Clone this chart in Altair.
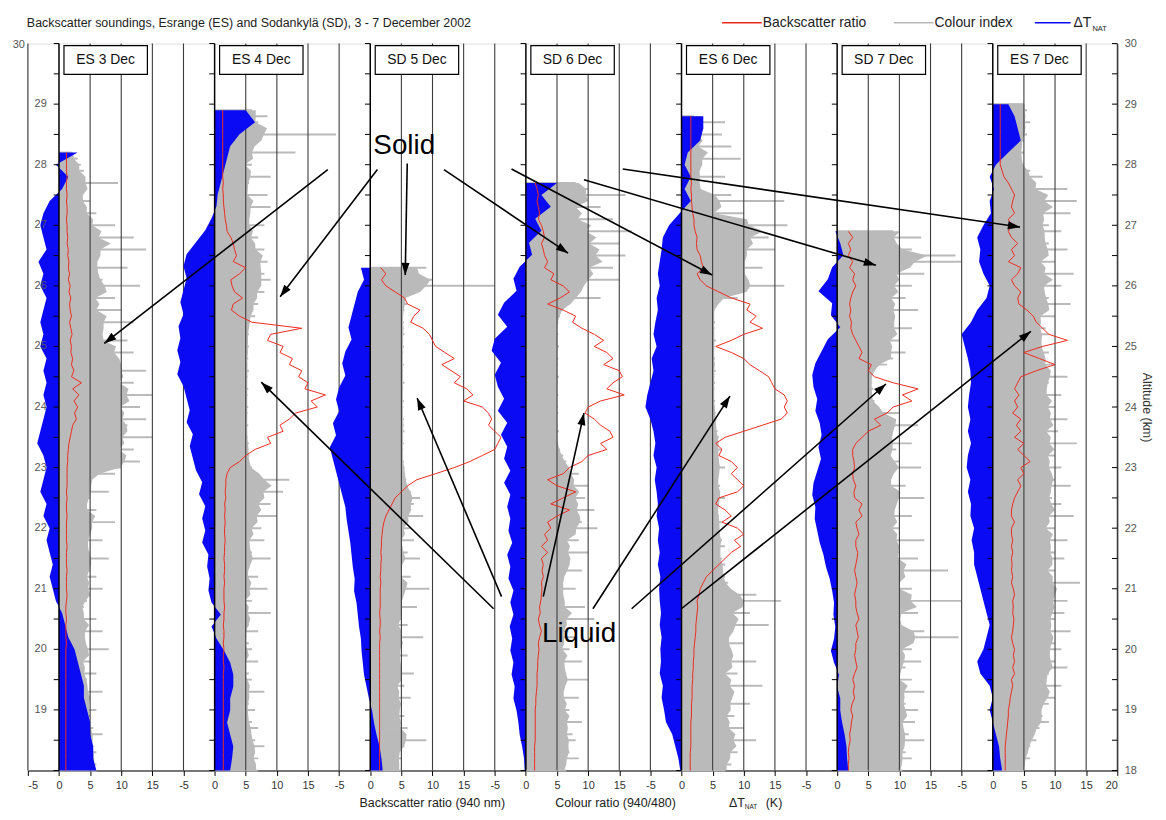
import math
import altair as alt
import numpy as np
import pandas as pd

TITLE = "Backscatter soundings, Esrange (ES) and Sodankylä (SD), 3 - 7 December 2002"
PANELS = ["ES 3 Dec", "ES 4 Dec", "SD 5 Dec", "SD 6 Dec", "ES 6 Dec", "SD 7 Dec", "ES 7 Dec"]
TOPS = [28.2, 28.9, 26.3, 27.7, 28.8, 26.9, 29.0]
TICK_LABELS = ["-5", "0", "5", "10", "15"]
LAST_TICK_LABEL = "20"
LEFT_ALT_LABELS = list(range(19, 30))
LEGEND_LABELS = ["Backscatter ratio", "Colour index", "\u0394T"]
X_TITLE_PARTS = ["Backscatter ratio (940 nm)", "Colour ratio (940/480)", "\u0394T", "(K)"]
SUB = "NAT"

# ---- Backscatter ratio (red), 0.1 km steps from the top of each sounding down to 18 km
RED = [
    [1.2, 1.2, 1.2,
     1.2, 1.3, 1.2, 1.2, 1.3, 1.2, 1.3, 1.3, 1.2, 1.3,
     1.3, 1.4, 1.3, 1.5, 1.4, 1.6, 1.5, 1.7, 1.5, 1.8,
     1.6, 1.9, 1.7, 1.8, 2.0, 1.7, 1.9, 2.1, 1.8, 2.0,
     1.9, 2.2, 2.0, 2.4, 2.0, 3.6, 2.2, 3.2, 2.4, 3.0,
     2.5, 2.8, 2.2, 2.0, 1.8, 1.6, 1.5, 1.4, 1.4, 1.3,
     1.3, 1.3, 1.3, 1.2, 1.3, 1.2, 1.2, 1.3, 1.2, 1.2,
     1.2, 1.2, 1.3, 1.2, 1.2, 1.2, 1.3, 1.2, 1.2, 1.2,
     1.3, 1.2, 1.1, 1.1, 1.2, 1.1, 1.1, 1.1, 1.2, 1.1,
     1.1, 1.1, 1.1, 1.1, 1.1, 1.1, 1.1, 1.1, 1.1, 1.1,
     1.1, 1.1, 1.1, 1.1, 1.1, 1.1, 1.1, 1.1, 1.1, 1.1],
    [1.3, 1.3, 1.3, 1.3, 1.3, 1.3, 1.3, 1.3, 1.3, 1.3,
     1.3, 1.3, 1.4, 1.3, 1.4, 1.4, 1.5, 1.6, 1.7, 1.9,
     2.0, 2.6, 3.0, 3.2, 3.5, 3.0, 5.0, 4.0, 2.6, 2.8,
     3.2, 4.5, 3.0, 2.7, 4.0, 6.0, 14.0, 9.0, 8.5, 11.0,
     10.5, 12.5, 12.0, 14.0, 13.5, 15.0, 14.5, 17.8, 15.5, 16.5,
     13.0, 12.0, 10.5, 11.0, 8.5, 9.0, 6.5, 5.0, 4.0, 2.5,
     2.0, 1.8, 1.8, 1.7, 1.8, 1.6, 1.7, 1.6, 1.7, 1.6,
     1.6, 1.7, 1.6, 1.6, 1.5, 1.6, 1.6, 1.5, 1.6, 1.5,
     1.5, 1.5, 1.6, 1.5, 1.5, 1.4, 1.5, 1.5, 1.4, 1.5,
     1.4, 1.4, 1.5, 1.4, 1.4, 1.4, 1.4, 1.4, 1.4, 1.4,
     1.4, 1.4, 1.4, 1.4, 1.4, 1.4, 1.4, 1.4, 1.4, 1.4],
    [1.7, 2.5, 1.8, 2.5,
     4.0, 5.5, 6.0, 8.0, 7.0, 6.5, 8.5, 9.5, 10.0, 10.5,
     12.0, 13.5, 11.5, 13.0, 14.5, 13.5, 15.5, 16.5, 15.0, 18.0,
     19.0, 19.5, 19.0, 20.0, 21.0, 20.5, 20.0, 18.0, 16.0, 13.5,
     10.5, 7.5, 6.0, 5.0, 4.0, 3.5, 3.0, 2.5, 2.2, 2.0,
     1.9, 1.8, 1.8, 1.7, 1.8, 1.7, 1.7, 1.6, 1.7, 1.6,
     1.6, 1.6, 1.6, 1.5, 1.6, 1.6, 1.5, 1.6, 1.5, 1.5,
     1.5, 1.5, 1.5, 1.5, 1.5, 1.5, 1.5, 1.5, 1.5, 1.5,
     1.5, 1.5, 1.5, 1.5, 1.5, 1.5, 1.5, 1.5, 1.5, 1.5],
    [1.5, 1.8, 2.0, 1.8, 2.0, 2.2, 2.0, 2.5,
     2.8, 3.0, 2.5, 2.8, 3.0, 3.5, 3.0, 4.5, 4.0, 6.0,
     7.0, 5.5, 3.5, 6.0, 8.0, 7.5, 9.0, 11.0, 12.5, 11.0,
     13.0, 14.0, 12.5, 15.0, 15.5, 14.0, 13.0, 15.8, 12.0, 10.0,
     9.5, 11.0, 12.0, 13.5, 14.0, 12.0, 13.0, 10.0, 9.0, 7.0,
     6.0, 3.5, 5.0, 8.0, 6.0, 4.0, 7.0, 5.0, 3.5, 4.0,
     3.0, 3.5, 2.5, 3.5, 2.5, 2.8, 2.6, 2.8, 2.5, 2.6,
     2.5, 2.4, 2.2, 2.3, 2.0, 2.2, 2.5, 2.2, 2.0, 2.1,
     2.0, 1.9, 1.9, 1.8, 1.8, 1.8, 1.7, 1.6, 1.6, 1.5,
     1.5, 1.5, 1.5, 1.5, 1.5, 1.4, 1.4, 1.4, 1.4, 1.4],
    [1.5, 1.5, 1.5, 1.5, 1.5, 1.5, 1.5, 1.5, 1.5,
     1.5, 1.5, 1.6, 1.5, 1.6, 1.6, 1.7, 1.8, 2.0, 2.0,
     2.2, 2.5, 2.4, 2.5, 3.0, 3.2, 3.5, 2.5, 3.0, 4.0,
     6.0, 8.0, 11.0, 10.5, 12.0, 11.0, 13.0, 10.0, 8.0, 5.5,
     8.0, 10.0, 11.0, 12.5, 14.0, 14.5, 15.0, 16.5, 17.0, 16.5,
     17.0, 16.0, 13.0, 10.0, 7.0, 5.5, 6.5, 6.0, 8.0, 9.0,
     8.0, 9.0, 10.0, 9.0, 6.0, 5.5, 7.0, 8.0, 6.5, 9.0,
     10.0, 8.5, 9.5, 8.0, 7.0, 6.0, 5.0, 4.0, 3.5, 3.0,
     2.8, 2.5, 2.6, 2.5, 2.4, 2.3, 2.3, 2.2, 2.1, 2.0,
     2.0, 1.9, 1.9, 1.8, 1.8, 1.7, 1.7, 1.7, 1.6, 1.6,
     1.6, 1.5, 1.5, 1.5, 1.5, 1.5, 1.4, 1.4, 1.4, 1.4],
    [1.8, 2.5, 1.8, 2.2, 1.8, 2.5, 2.0, 2.8, 2.5, 3.0,
     2.5, 2.2, 2.0, 2.2, 2.0, 2.3, 2.2, 2.5, 3.0, 3.5,
     4.0, 3.5, 5.5, 5.0, 6.0, 9.0, 13.0, 10.5, 12.0, 9.0,
     8.0, 6.0, 7.0, 5.0, 4.0, 3.0, 2.5, 2.5, 2.7, 2.8,
     2.5, 2.6, 3.0, 2.7, 2.8, 4.0, 3.5, 4.0, 3.0, 3.2,
     3.5, 3.0, 3.0, 3.3, 3.2, 3.0, 2.8, 3.0, 3.2, 3.0,
     2.8, 3.0, 3.0, 3.2, 3.5, 3.0, 3.2, 3.4, 3.0, 3.0,
     2.8, 3.0, 3.2, 2.8, 2.5, 2.8, 2.6, 2.8, 2.4, 2.2,
     2.5, 2.3, 2.2, 2.0, 2.1, 1.9, 1.8, 1.9, 1.8, 1.8],
    [1.2,
     1.2, 1.2, 1.2, 1.2, 1.2, 1.2, 1.2, 1.2, 1.2, 1.2,
     1.5, 1.8, 2.5, 3.0, 3.5, 3.2, 3.0, 3.5, 2.5, 3.0,
     2.5, 3.0, 4.0, 3.0, 3.5, 2.5, 4.5, 4.0, 3.0, 3.5,
     4.5, 4.0, 4.2, 5.5, 6.5, 7.0, 8.0, 9.0, 12.0, 8.0,
     5.0, 7.5, 10.0, 7.0, 4.5, 4.0, 3.5, 4.2, 3.5, 4.0,
     3.2, 4.5, 3.8, 4.5, 3.5, 5.0, 4.0, 5.0, 6.0, 4.5,
     5.0, 4.0, 4.5, 4.0, 3.5, 3.2, 3.0, 3.0, 3.5, 3.0,
     3.0, 3.2, 3.0, 3.2, 3.0, 3.1, 3.0, 3.2, 3.0, 3.3,
     3.5, 3.2, 3.3, 3.2, 3.4, 3.3, 3.2, 3.0, 3.2, 3.5,
     3.3, 3.5, 3.2, 3.5, 3.0, 3.2, 3.0, 2.8, 2.7, 2.5,
     2.5, 2.4, 2.3, 2.2, 2.1, 2.0, 2.0, 2.0, 2.0, 2.0],
]

# ---- Colour index (grey), 0.1 km steps
GREY = [
    [2.0, 3.0, 3.5,
     4.0, 3.0, 9.5, 4.0, 3.5, 5.0, 4.0, 6.0, 4.5, 9.0,
     5.0, 12.0, 6.0, 14.0, 5.0, 6.0, 11.0, 5.0, 7.0, 13.0,
     6.0, 9.0, 5.0, 10.0, 6.0, 12.0, 7.0, 6.0, 11.0, 8.0,
     12.0, 9.0, 10.0, 14.0, 9.0, 12.0, 10.0, 15.0, 10.0, 13.0,
     9.0, 14.0, 11.0, 10.0, 15.0, 9.0, 12.0, 10.0, 13.0, 10.0,
     9.0, 5.0, 4.5, 8.0, 5.0, 4.0, 6.0, 5.0, 9.0, 4.5,
     5.0, 7.0, 4.0, 5.0, 8.0, 4.5, 5.0, 6.0, 4.0, 7.0,
     5.0, 4.5, 4.0, 3.5, 6.0, 4.0, 7.0, 3.5, 4.0, 8.0,
     4.0, 5.0, 3.5, 6.0, 4.5, 4.0, 7.0, 5.0, 4.5, 6.0,
     5.0, 4.5, 5.5, 7.0, 5.0, 5.5, 6.0, 5.5, 6.0, 6.0],
    [6.0, 8.5, 7.0, 6.0, 19.5, 5.5, 5.0, 13.0, 4.5, 6.0,
     5.0, 9.0, 5.5, 4.5, 8.5, 5.0, 9.0, 5.5, 5.0, 8.0,
     5.5, 7.0, 6.0, 8.0, 7.5, 8.5, 7.0, 8.0, 9.0, 7.0,
     8.0, 6.5, 7.0, 6.0, 6.5, 5.5, 5.5, 5.5, 5.3, 5.5,
     5.3, 5.4, 5.2, 5.5, 5.3, 5.2, 5.4, 5.3, 5.2, 5.4,
     5.3, 5.2, 5.4, 5.2, 5.3, 5.5, 5.4, 5.6, 5.5, 6.0,
     7.0, 12.0, 8.0, 11.0, 7.0, 9.0, 6.5, 10.0, 6.0, 7.5,
     5.5, 8.0, 5.0, 6.0, 9.0, 5.5, 5.0, 7.0, 5.0, 8.5,
     5.0, 6.0, 4.5, 9.0, 5.0, 5.5, 7.0, 4.5, 5.5, 6.0,
     5.0, 7.0, 4.5, 5.5, 6.0, 5.0, 8.0, 5.0, 5.5, 6.5,
     5.0, 6.0, 7.0, 5.5, 6.5, 8.0, 6.0, 7.0, 6.5, 7.0],
    [9.0, 7.0, 10.0, 20.0,
     6.0, 5.5, 6.0, 5.5, 5.2, 5.4, 5.3, 5.5, 5.2, 5.4,
     5.3, 5.2, 5.4, 5.3, 5.2, 5.5, 5.3, 5.2, 5.4, 5.3,
     5.2, 5.4, 5.3, 5.5, 5.2, 5.4, 5.3, 5.2, 5.4, 5.5,
     5.6, 5.8, 6.0, 6.5, 8.0, 7.0, 6.0, 8.5, 5.5, 6.5,
     5.0, 7.0, 4.5, 6.0, 8.0, 5.0, 4.5, 6.5, 5.0, 9.5,
     5.0, 4.5, 7.5, 4.5, 5.0, 6.0, 4.0, 8.5, 5.0, 4.5,
     6.0, 4.5, 5.0, 7.0, 4.5, 5.5, 4.0, 6.5, 5.0, 4.5,
     5.5, 4.5, 6.0, 5.0, 9.0, 5.5, 4.5, 5.0, 4.5, 5.0],
    [8.0, 10.0, 16.0, 8.0, 12.0, 7.0, 14.0, 8.0,
     17.0, 9.0, 15.0, 10.0, 16.0, 11.0, 14.0, 9.0, 15.0, 9.0,
     8.0, 12.0, 7.0, 6.0, 5.5, 5.2, 5.0, 5.2, 5.0, 5.3,
     5.0, 5.2, 5.1, 5.0, 5.3, 5.1, 5.0, 5.2, 5.0, 5.1,
     5.2, 5.0, 5.1, 5.3, 5.0, 5.2, 5.5, 6.0, 6.5, 7.0,
     8.5, 7.0, 10.0, 8.0, 9.5, 7.5, 11.0, 8.0, 9.0, 11.5,
     7.0, 8.5, 6.0, 10.0, 6.5, 7.0, 9.0, 6.0, 5.5, 8.0,
     6.0, 5.5, 9.5, 6.0, 11.0, 5.5, 6.5, 8.0, 5.5, 7.0,
     6.0, 9.0, 5.5, 6.5, 10.0, 6.0, 5.5, 8.5, 6.0, 7.0,
     6.5, 9.0, 6.0, 7.5, 8.0, 6.5, 7.0, 8.5, 6.0, 6.5],
    [2.0, 7.0, 2.0, 6.5, 1.5, 8.0, 2.0, 9.5, 2.5,
     2.0, 7.0, 2.5, 2.0, 8.0, 16.5, 3.0, 10.0, 9.0, 17.0,
     12.0, 14.0, 10.0, 15.0, 9.5, 10.0, 13.0, 9.5, 10.0, 16.5,
     10.0, 9.0, 5.5, 5.3, 5.2, 5.4, 5.3, 5.2, 5.5, 5.3,
     5.2, 5.4, 5.3, 5.5, 5.2, 5.4, 5.3, 5.2, 5.4, 5.3,
     5.5, 5.6, 5.5, 5.8, 6.0, 5.8, 6.5, 5.8, 6.0, 7.0,
     6.0, 5.8, 6.2, 6.0, 7.0, 6.0, 5.8, 6.0, 6.5, 6.0,
     6.2, 6.5, 7.0, 6.0, 6.5, 7.0, 6.5, 7.0, 7.5, 7.0,
     12.0, 16.0, 8.0, 11.0, 7.5, 14.0, 8.0, 7.0, 10.0, 7.5,
     8.0, 12.0, 7.0, 9.0, 6.5, 13.0, 7.5, 8.0, 11.0, 7.0,
     8.5, 7.0, 10.0, 7.5, 12.0, 8.0, 9.0, 7.5, 8.0, 7.0],
    [9.0, 13.5, 8.0, 12.0, 19.0, 20.0, 9.0, 14.0, 8.5, 12.0,
     9.0, 11.0, 8.0, 13.0, 9.0, 8.5, 12.0, 9.0, 10.0, 8.0,
     11.0, 9.0, 8.0, 6.0, 5.5, 5.5, 5.8, 5.5, 6.0, 6.5,
     10.0, 8.5, 13.0, 9.0, 8.0, 12.0, 9.5, 8.0, 10.0, 13.5,
     9.0, 8.0, 11.0, 9.0, 14.0, 9.5, 8.5, 12.0, 9.0, 10.0,
     8.5, 14.0, 9.0, 10.0, 13.0, 9.0, 17.8, 10.0, 9.5, 12.0,
     10.0, 20.0, 11.0, 13.0, 9.5, 10.0, 14.0, 19.5, 10.5, 12.0,
     10.0, 13.5, 11.0, 9.5, 12.0, 10.5, 14.0, 10.0, 11.0, 13.0,
     10.5, 12.5, 10.0, 11.5, 14.0, 10.0, 11.0, 12.0, 10.0, 10.5],
    [5.0,
     5.5, 5.0, 6.0, 5.0, 5.5, 5.0, 4.5, 5.0, 4.5, 5.0,
     6.0, 8.0, 5.5, 12.0, 7.0, 13.5, 8.0, 12.5, 7.0, 9.0,
     11.0, 7.5, 9.0, 12.0, 8.0, 10.0, 7.0, 13.0, 8.5, 11.0,
     7.5, 9.0, 12.5, 8.0, 10.0, 7.0, 8.5, 9.0, 7.5, 8.0,
     9.0, 8.0, 10.0, 8.5, 12.0, 9.0, 8.0, 11.0, 9.0, 10.0,
     8.5, 12.0, 9.0, 10.5, 8.0, 13.5, 9.0, 10.0, 8.5, 11.0,
     9.0, 10.0, 12.5, 8.5, 9.5, 11.0, 9.0, 13.0, 8.0, 10.0,
     9.0, 12.0, 8.5, 10.0, 11.5, 9.0, 10.0, 8.5, 14.0, 9.5,
     10.0, 12.0, 9.0, 11.5, 10.0, 8.5, 12.5, 9.0, 10.0, 11.0,
     8.5, 10.0, 12.0, 9.0, 8.0, 11.0, 8.5, 10.0, 9.0, 7.5,
     8.0, 9.0, 7.5, 6.5, 7.0, 6.0, 5.5, 6.0, 5.0, 5.0],
]

# ---- Delta T_NAT (blue), ~0.2 km steps
BLUE = [
    [3.0, -0.5, 1.5, 0.5, -1.5, -2.5, -3.0, -2.5, -2.0, -3.3, -2.5, -3.0, -2.0, -2.5,
     -3.0, -2.5, -3.0, -2.0, -2.5, -2.0, -2.5, -2.0, -2.5, -3.0, -3.5, -2.5, -2.0, -2.5,
     -3.0, -2.0, -2.5, -1.5, -2.0, -1.5, -1.0, -1.5, -1.0, -0.5, 0.5, 1.0, 1.5, 2.5,
     3.0, 3.5, 4.0, 4.0, 4.5, 5.0, 5.0, 5.5, 5.5, 6.0],
    [5.0, 6.5, 4.0, 2.5, 2.0, 1.5, 1.0, 0.5, 0.3, -0.5,
     -1.5, -3.0, -4.5, -5.0, -4.5, -5.0, -5.5, -5.0, -5.8, -5.5,
     -6.0, -5.5, -6.0, -5.0, -4.5, -4.0, -4.5, -3.5, -4.0, -3.5,
     -3.0, -2.0, -2.5, -1.5, -2.0, -1.5, -2.0, -1.0, -1.2, -0.8,
     -1.0, -0.5, 1.0, -0.5, 0.3, 1.5, 2.5, 3.0, 3.0, 2.5,
     2.5, 2.0, 2.5, 3.0, 2.8, 2.5],
    [-1.5, -1.0, -2.0, -2.5, -3.0, -3.5, -3.0, -4.0, -4.5, -4.0,
     -5.0, -5.5, -5.0, -6.0, -5.5, -6.5, -6.0, -5.5, -5.0, -4.5,
     -4.0, -3.8, -3.5, -3.2, -3.0, -2.8, -2.5, -2.6, -2.2, -2.0,
     -1.8, -1.5, -1.4, -1.2, -1.0, -0.6, -0.2, 0.3, 0.6, 1.0,
     1.5, 1.8, 2.0],
    [5.0, 2.5, 4.0, 1.5, 2.5, 0.5, 1.0, -1.0, -2.0, -1.5,
     -3.5, -4.5, -3.0, -5.0, -5.5, -4.0, -5.0, -4.5, -3.5, -4.5,
     -3.0, -4.0, -3.0, -3.5, -2.5, -3.5, -2.5, -3.0, -2.5, -2.8,
     -2.2, -3.0, -2.5, -2.8, -2.0, -2.5, -2.0, -2.6, -2.2, -2.5,
     -2.0, -2.3, -1.8, -2.0, -1.5, -1.2, -1.0, -0.6, -0.3, -0.2],
    [3.5, 3.5, 3.0, 1.0, 0.5, 1.5, 0.5, 1.5, -0.3, -2.0,
     -3.0, -3.2, -3.5, -3.8, -3.5, -4.0, -3.8, -4.2, -4.5, -4.0,
     -4.8, -4.5, -5.0, -5.5, -5.8, -5.0, -4.5, -4.2, -4.5, -4.0,
     -4.3, -4.0, -3.8, -4.0, -3.6, -3.8, -3.5, -3.8, -3.4, -3.6,
     -3.5, -3.3, -3.5, -3.2, -3.4, -3.3, -3.5, -3.0, -3.2, -2.8,
     -2.5, -1.5, -1.0, -0.5, -0.2],
    [-0.3, 0.5, 1.0, -0.8, -1.5, -3.0, -0.8, -1.0, 0.5, -1.5,
     -2.5, -3.5, -4.0, -3.8, -3.2, -3.5, -2.8, -2.5, -3.0, -2.6,
     -3.2, -3.8, -4.0, -3.5, -3.6, -3.2, -2.8, -2.2, -1.8, -1.2,
     -0.8, -0.5, -0.6, -0.3, -0.5, -1.0, -0.5, 0.3, 0.0, 0.5,
     0.5, 0.8, 1.2, 1.5, 1.6, 1.8],
    [2.5, 3.5, 4.0, 4.5, 2.5, 0.5, -0.5, 0.2, -0.5, -0.3,
     -1.5, -2.5, -2.0, -2.2, -1.5, -0.5, -1.0, -2.5, -3.5, -5.0,
     -4.5, -4.0, -3.6, -3.5, -3.8, -4.0, -3.6, -4.0, -3.5, -4.0,
     -4.2, -3.6, -4.0, -3.5, -3.6, -3.0, -3.4, -3.0, -3.0, -2.5,
     -2.0, -1.5, -1.0, -0.5, -1.0, -1.5, -2.5, -2.0, -0.5, 0.0,
     -0.5, 0.0, 0.5, 1.0, 1.2, 1.5],
]

# ---- Annotation arrows: start and end in (global x unit, altitude km)
SOLID_TEXT_POS = (60.46, 28.30)
LIQUID_TEXT_POS = (88.54, 20.25)
SOLID_START = [(48.18, 27.92), (56.15, 27.92), (60.94, 28.02), (66.84, 27.92),
               (77.69, 27.93), (89.33, 27.75), (95.56, 27.93)]
SOLID_END = [(12.28, 25.05), (40.52, 25.82), (60.62, 26.18), (86.78, 26.54),
             (109.91, 26.18), (136.23, 26.34), (159.37, 26.97)]
LIQUID_START = [(74.82, 20.67), (76.09, 20.87), (82.79, 20.87), (90.77, 20.67),
                (96.99, 20.67), (104.97, 20.67)]
LIQUID_END = [(37.49, 24.41), (62.53, 24.15), (89.33, 23.90), (112.78, 24.18),
              (137.83, 24.38), (161.12, 25.25)]

# ---------------------------------------------------------------------------
FONT = "Liberation Sans"
W, H = 1097, 732
SPAN = 25
XMAX = SPAN * len(PANELS)
PX = W / XMAX
PY = H / 12.0
C_RED, C_GREY, C_BLUE = "#ee2a1e", "#bababa", "#0a0af5"


def series_frame(lists):
    rows = []
    for i, vals in enumerate(lists):
        x0 = SPAN * i + 5
        alts = np.linspace(TOPS[i], 18.0, len(vals))
        for a, v in zip(alts, vals):
            rows.append({"panel": i, "alt": float(a), "x0": x0, "xv": x0 + v})
    return pd.DataFrame(rows)


grey_df = series_frame(GREY)
blue_df = series_frame(BLUE)
red_df = series_frame(RED)

xs = alt.Scale(domain=[0, XMAX], nice=False, zero=False)
ys = alt.Scale(domain=[18, 30], nice=False, zero=False)

label_js = "[" + ",".join("'%s'" % t for t in TICK_LABELS) + "]"
X_AXIS = alt.Axis(
    values=list(range(0, XMAX + 1, 5)),
    labelExpr="datum.value >= %d ? '%s' : %s[round(datum.value / 5) %% 5]" % (XMAX, LAST_TICK_LABEL, label_js),
    title=None, grid=False, domainColor="#000", tickColor="#000", tickSize=5,
    labelFont=FONT, labelFontSize=11, labelColor="#333", labelPadding=4,
)
Y_AXIS = alt.Axis(
    orient="right", values=list(range(18, 31)), title="Altitude (km)", grid=False,
    ticks=False, domainColor="#000", labelFont=FONT, labelFontSize=11, labelColor="#555",
    labelPadding=7, titleFont=FONT, titleFontSize=12.5, titleFontWeight="normal",
    titleColor="#333", titlePadding=3,
)


def X(field):
    return alt.X(field, scale=xs, axis=X_AXIS)


def Y(field):
    return alt.Y(field, scale=ys, axis=Y_AXIS)


# colour index: a filled body following the neighbourhood of each sample, and each sample as a thin spike
grey_body = alt.Chart(grey_df).transform_window(
    lo="min(xv)", av="mean(xv)", frame=[-1, 1], groupby=["panel"],
    sort=[alt.SortField("alt", order="descending")]
).transform_calculate(
    body="0.5 * (datum.lo + datum.av)"
).mark_area(orient="horizontal", color=C_GREY).encode(
    x=X("body:Q"), x2="x0:Q", y=Y("alt:Q"), detail="panel:N")
grey_spikes = alt.Chart(grey_df).mark_rule(color=C_GREY, strokeWidth=2).encode(
    x=X("x0:Q"), x2="xv:Q", y=Y("alt:Q"))

grid_df = pd.DataFrame({"gx": [g for g in range(0, XMAX + 1, 5) if (g - 5) % SPAN != 0]})
grid = alt.Chart(grid_df).mark_rule(color="#3c3c3c", strokeWidth=1.1).encode(
    x=X("gx:Q"), y=alt.value(0), y2=alt.value(H))

blue = alt.Chart(blue_df).mark_area(orient="horizontal", color=C_BLUE).encode(
    x=X("xv:Q"), x2="x0:Q", y=Y("alt:Q"), detail="panel:N")

zero_df = pd.DataFrame({"gx": [SPAN * i + 5 for i in range(len(PANELS))]})
zeros = alt.Chart(zero_df).mark_rule(color="#000", strokeWidth=1.5).encode(
    x=X("gx:Q"), y=alt.value(0), y2=alt.value(H))

tick_rows = []
for i in range(len(PANELS)):
    x0 = SPAN * i + 5
    for k in range(25):
        tick_rows.append({"xa": x0 - 0.85, "xb": x0, "alt": 18 + 0.5 * k})
for k in range(25):
    tick_rows.append({"xa": XMAX - 0.85, "xb": XMAX, "alt": 18 + 0.5 * k})
ticks = alt.Chart(pd.DataFrame(tick_rows)).mark_rule(color="#000", strokeWidth=1).encode(
    x=X("xa:Q"), x2="xb:Q", y=Y("alt:Q"))

red = alt.Chart(red_df).mark_line(color=C_RED, strokeWidth=1).encode(
    x=X("xv:Q"), y=Y("alt:Q"), detail="panel:N", order=alt.Order("alt:Q"))

box_df = pd.DataFrame({
    "name": PANELS,
    "xa": [SPAN * i + 5 + 0.8 for i in range(len(PANELS))],
    "xb": [SPAN * i + 5 + 14.2 for i in range(len(PANELS))],
    "xc": [SPAN * i + 5 + 7.5 for i in range(len(PANELS))],
})
boxes = alt.Chart(box_df).mark_rect(fill="white", stroke="#000", strokeWidth=1.2).encode(
    x=X("xa:Q"), x2="xb:Q", y=alt.value(2), y2=alt.value(31))
box_text = alt.Chart(box_df).mark_text(font=FONT, fontSize=14, color="#111").encode(
    x=X("xc:Q"), y=alt.value(17), text="name:N")

arr_rows, head_rows = [], []
for (sx, sa), (ex, ea) in list(zip(SOLID_START, SOLID_END)) + list(zip(LIQUID_START, LIQUID_END)):
    dxp = (ex - sx) * PX
    dyp = -(ea - sa) * PY
    ang = math.degrees(math.atan2(dxp, -dyp)) % 360
    arr_rows.append({"x": sx, "y": sa, "x2": ex, "y2": ea})
    head_rows.append({"x": ex, "y": ea, "ang": ang})
arrows = alt.Chart(pd.DataFrame(arr_rows)).mark_rule(color="#000", strokeWidth=1.6).encode(
    x=X("x:Q"), y=Y("y:Q"), x2="x2:Q", y2="y2:Q")
heads = alt.Chart(pd.DataFrame(head_rows)).mark_point(
    shape="M0,0L0.42,1.25L-0.42,1.25Z", filled=True, color="#000", opacity=1, size=380,
    strokeWidth=0).encode(
    x=X("x:Q"), y=Y("y:Q"), angle=alt.Angle("ang:Q", scale=None))

notes_df = pd.DataFrame({"t": ["Solid", "Liquid"],
                         "x": [SOLID_TEXT_POS[0], LIQUID_TEXT_POS[0]],
                         "y": [SOLID_TEXT_POS[1], LIQUID_TEXT_POS[1]]})
notes = alt.Chart(notes_df).mark_text(font=FONT, fontSize=28, color="#000").encode(
    x=X("x:Q"), y=Y("y:Q"), text="t:N")

left_df = pd.DataFrame({"alt": LEFT_ALT_LABELS, "t": [str(v) for v in LEFT_ALT_LABELS]})
left_labels = alt.Chart(left_df).mark_text(font=FONT, fontSize=11, color="#555", align="right").encode(
    x=alt.value(19), y=Y("alt:Q"), text="t:N")

one = pd.DataFrame({"k": [0]})


def txt(s, x, y, size, align="left", color="#222"):
    return alt.Chart(one).mark_text(font=FONT, fontSize=size, align=align, color=color,
                                    baseline="middle").encode(
        x=alt.value(x), y=alt.value(y), text=alt.value(s))


def seg(x1, x2, y, color):
    return alt.Chart(one).mark_rule(color=color, strokeWidth=1.5).encode(
        x=alt.value(x1), x2=alt.value(x2), y=alt.value(y))


deco = [
    txt("30", -3, 1, 11, "right", "#555"),
    txt(TITLE, -1, -21, 12.5),
    seg(699, 739, -21, C_RED), txt(LEGEND_LABELS[0], 740, -21, 14),
    seg(872, 912, -21, C_GREY), txt(LEGEND_LABELS[1], 913, -21, 14),
    seg(1014, 1050, -21, C_BLUE), txt(LEGEND_LABELS[2], 1053, -21, 14),
    txt(SUB, 1072, -15, 7.5),
    txt(X_TITLE_PARTS[0], 334, 765, 12.5),
    txt(X_TITLE_PARTS[1], 531, 765, 12.5),
    txt(X_TITLE_PARTS[2], 706, 765, 12.5),
    txt(SUB, 722, 769, 6.5),
    txt(X_TITLE_PARTS[3], 743, 765, 12.5),
]

chart = alt.layer(
    grey_body, grey_spikes, grid, blue, zeros, ticks, red, boxes, box_text, arrows, heads, notes,
    left_labels, *deco
).properties(
    width=W, height=H,
    autosize=alt.AutoSizeParams(type="none"),
    padding={"left": 20, "top": 33, "right": 41, "bottom": 40},
).configure_view(stroke="#000", strokeWidth=1).configure(background="white")

chart.save("out.html", embed_options={"renderer": "svg", "actions": False})
